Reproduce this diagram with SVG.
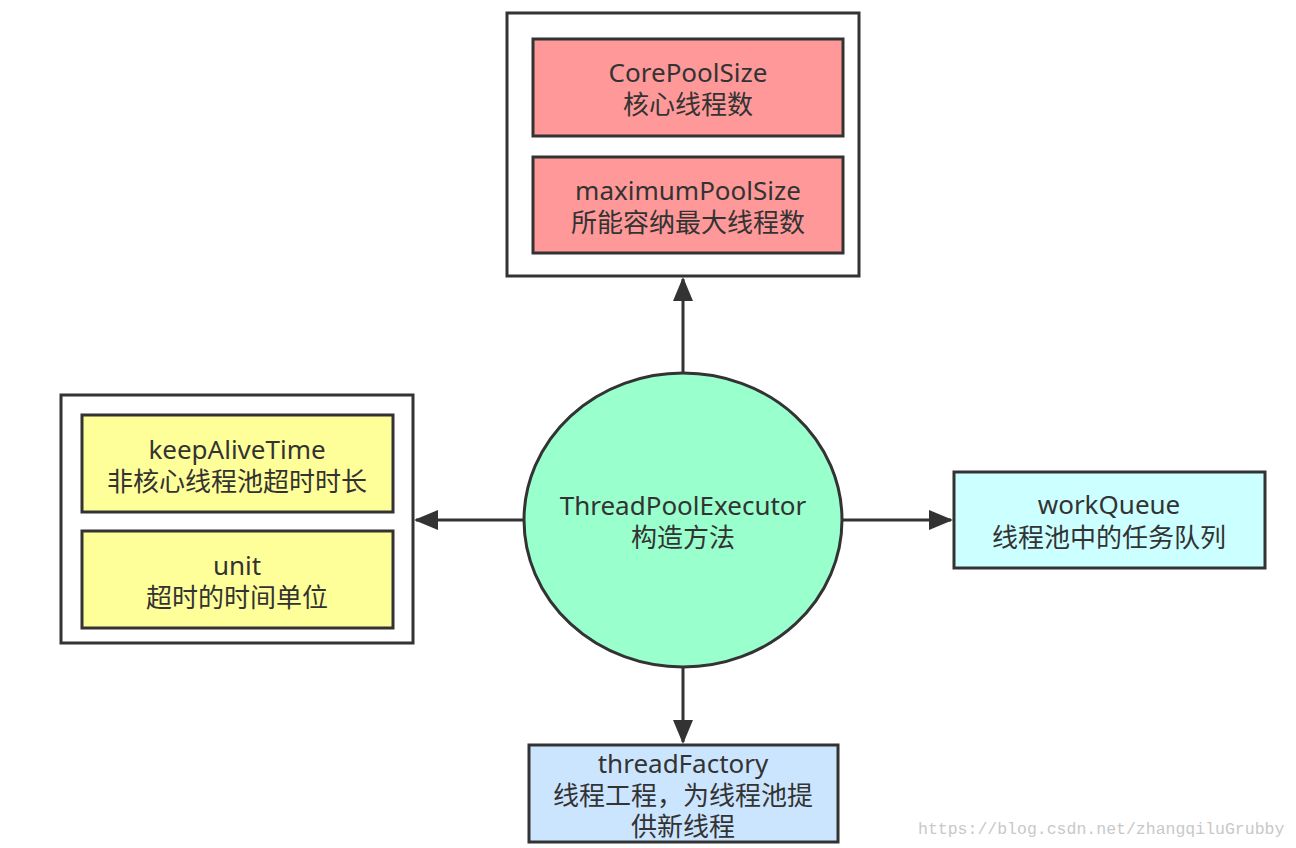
<svg xmlns="http://www.w3.org/2000/svg" width="1296" height="848" viewBox="0 0 1296 848">
<defs>
<style>
.outer{fill:#ffffff;stroke:#333333;stroke-width:3}
.box{stroke:#333333;stroke-width:3}
.red{fill:#ff9999}
.yellow{fill:#ffff99}
.cyan{fill:#ccffff}
.blue{fill:#cce5ff}
.circ{fill:#99ffcc;stroke:#333333;stroke-width:3}
.t{font-family:"Noto Sans","Noto Sans CJK SC",sans-serif;font-size:26px;fill:#333333;text-anchor:middle}
.edge{stroke:#333333;stroke-width:3;fill:none}
.wm{font-family:"Liberation Mono",monospace;font-size:16.5px;fill:#c8c8c8}
</style>
<marker id="arr" markerWidth="24" markerHeight="20" refX="22" refY="10" orient="auto" markerUnits="userSpaceOnUse">
<path d="M0,0 L24,10 L0,20 Z" fill="#333333"/>
</marker>
</defs>
<rect width="1296" height="848" fill="#ffffff"/>
<g id="connectors">
<line class="edge" x1="683" y1="373" x2="683" y2="279" marker-end="url(#arr)"/>
<line class="edge" x1="524" y1="520" x2="416" y2="520" marker-end="url(#arr)"/>
<line class="edge" x1="843" y1="520" x2="951" y2="520" marker-end="url(#arr)"/>
<line class="edge" x1="683" y1="667" x2="683" y2="742" marker-end="url(#arr)"/>
</g>
<g id="pool-size-group">
<rect class="outer" x="507" y="13" width="352" height="263"/>
<g id="corePoolSize">
<rect class="box red" x="533" y="39" width="310" height="97"/>
<text class="t" x="688" y="82">CorePoolSize</text>
<text class="t" x="688" y="114">核心线程数</text>
</g>
<g id="maximumPoolSize">
<rect class="box red" x="533" y="157" width="310" height="96"/>
<text class="t" x="688" y="200">maximumPoolSize</text>
<text class="t" x="688" y="232">所能容纳最大线程数</text>
</g>
</g>
<g id="time-group">
<rect class="outer" x="61" y="395" width="352" height="248"/>
<g id="keepAliveTime">
<rect class="box yellow" x="82" y="415" width="311" height="97"/>
<text class="t" x="237" y="459">keepAliveTime</text>
<text class="t" x="237" y="491">非核心线程池超时时长</text>
</g>
<g id="unit">
<rect class="box yellow" x="82" y="531" width="311" height="97"/>
<text class="t" x="237" y="575">unit</text>
<text class="t" x="237" y="607">超时的时间单位</text>
</g>
</g>
<g id="executor">
<ellipse class="circ" cx="683" cy="520" rx="159" ry="147"/>
<text class="t" x="683" y="515">ThreadPoolExecutor</text>
<text class="t" x="683" y="547">构造方法</text>
</g>
<g id="workQueue">
<rect class="box cyan" x="954" y="472" width="311" height="96"/>
<text class="t" x="1109" y="514">workQueue</text>
<text class="t" x="1109" y="547">线程池中的任务队列</text>
</g>
<g id="threadFactory">
<rect class="box blue" x="529" y="745" width="309" height="97"/>
<text class="t" x="683" y="773">threadFactory</text>
<text class="t" x="683" y="805">线程工程，为线程池提</text>
<text class="t" x="683" y="836">供新线程</text>
</g>
<text class="wm" x="918" y="834">https://blog.csdn.net/zhangqiluGrubby</text>
</svg>
